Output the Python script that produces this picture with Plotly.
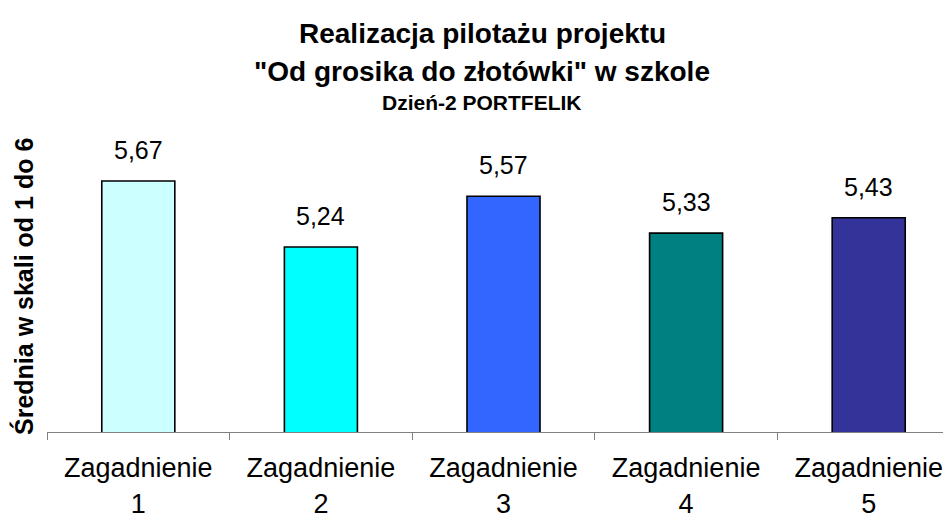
import plotly.graph_objects as go

categories = ["Zagadnienie<br>1", "Zagadnienie<br>2", "Zagadnienie<br>3", "Zagadnienie<br>4", "Zagadnienie<br>5"]
values = [5.67, 5.24, 5.57, 5.33, 5.43]
colors = ["#CCFFFF", "#00FFFF", "#3366FF", "#008080", "#333399"]
title_lines = ["Realizacja pilotażu projektu", "\"Od grosika do złotówki\" w szkole", "Dzień-2 PORTFELIK"]
y_title = "Średnia w skali od 1 do 6"

FONT = "Liberation Sans, Arial, sans-serif"

# page body has an 8px margin -> figure coords = screen coords - 8
OFF = 8
PL, PT, PB = 47 - OFF, 128 - OFF, 432 - OFF   # plot area in figure px
CAT = 182.6                                   # px per category
PW = 951 - PL

fig = go.Figure()
fig.add_trace(go.Bar(
    x=categories, y=values, width=0.4,
    marker=dict(color=colors, line=dict(color="black", width=1.6)),
    hoverinfo="skip",
))

labels = [f"{v:.2f}".replace(".", ",") for v in values]
annotations = []
for c, v, t in zip(categories, values, labels):
    annotations.append(dict(x=c, y=v, xref="x", yref="y", text=t, showarrow=False,
                            yanchor="bottom", yshift=15,
                            font=dict(family=FONT, size=25, color="black")))

def py(screen_y):
    return (432 - screen_y) / (PB - PT)

def px(screen_x):
    return (screen_x - 47) / PW

title_pos = [(33, 28), (71, 28), (102, 21)]
for txt, (sy, fs) in zip(title_lines, title_pos):
    annotations.append(dict(x=px(482), y=py(sy), xref="paper", yref="paper",
                            text=f"<b>{txt}</b>", showarrow=False, xanchor="center", yanchor="middle",
                            font=dict(family=FONT, size=fs, color="black")))

annotations.append(dict(x=px(23), y=py(287), xref="paper", yref="paper",
                        text=f"<b>{y_title}</b>", showarrow=False, textangle=-90,
                        xanchor="center", yanchor="middle",
                        font=dict(family=FONT, size=25, color="black")))

fig.update_layout(
    width=951, height=518,
    margin=dict(l=PL, r=0, t=PT, b=518 - PB),
    paper_bgcolor="white", plot_bgcolor="white",
    showlegend=False,
    annotations=annotations,
    font=dict(family=FONT, color="black"),
)
fig.update_xaxes(
    type="category", range=[-0.5, -0.5 + PW / CAT],
    showline=True, linecolor="#808080", linewidth=1,
    ticks="outside", tickson="boundaries", ticklen=7, tickcolor="#808080", tickwidth=1,
    tickfont=dict(family=FONT, size=27, color="black"),
    ticklabelstandoff=12,
    showgrid=False, zeroline=False,
)
fig.update_yaxes(
    range=[4.035, 6.015], showline=False, showticklabels=False, ticks="",
    showgrid=False, zeroline=False,
)

fig.write_html("out.html")
